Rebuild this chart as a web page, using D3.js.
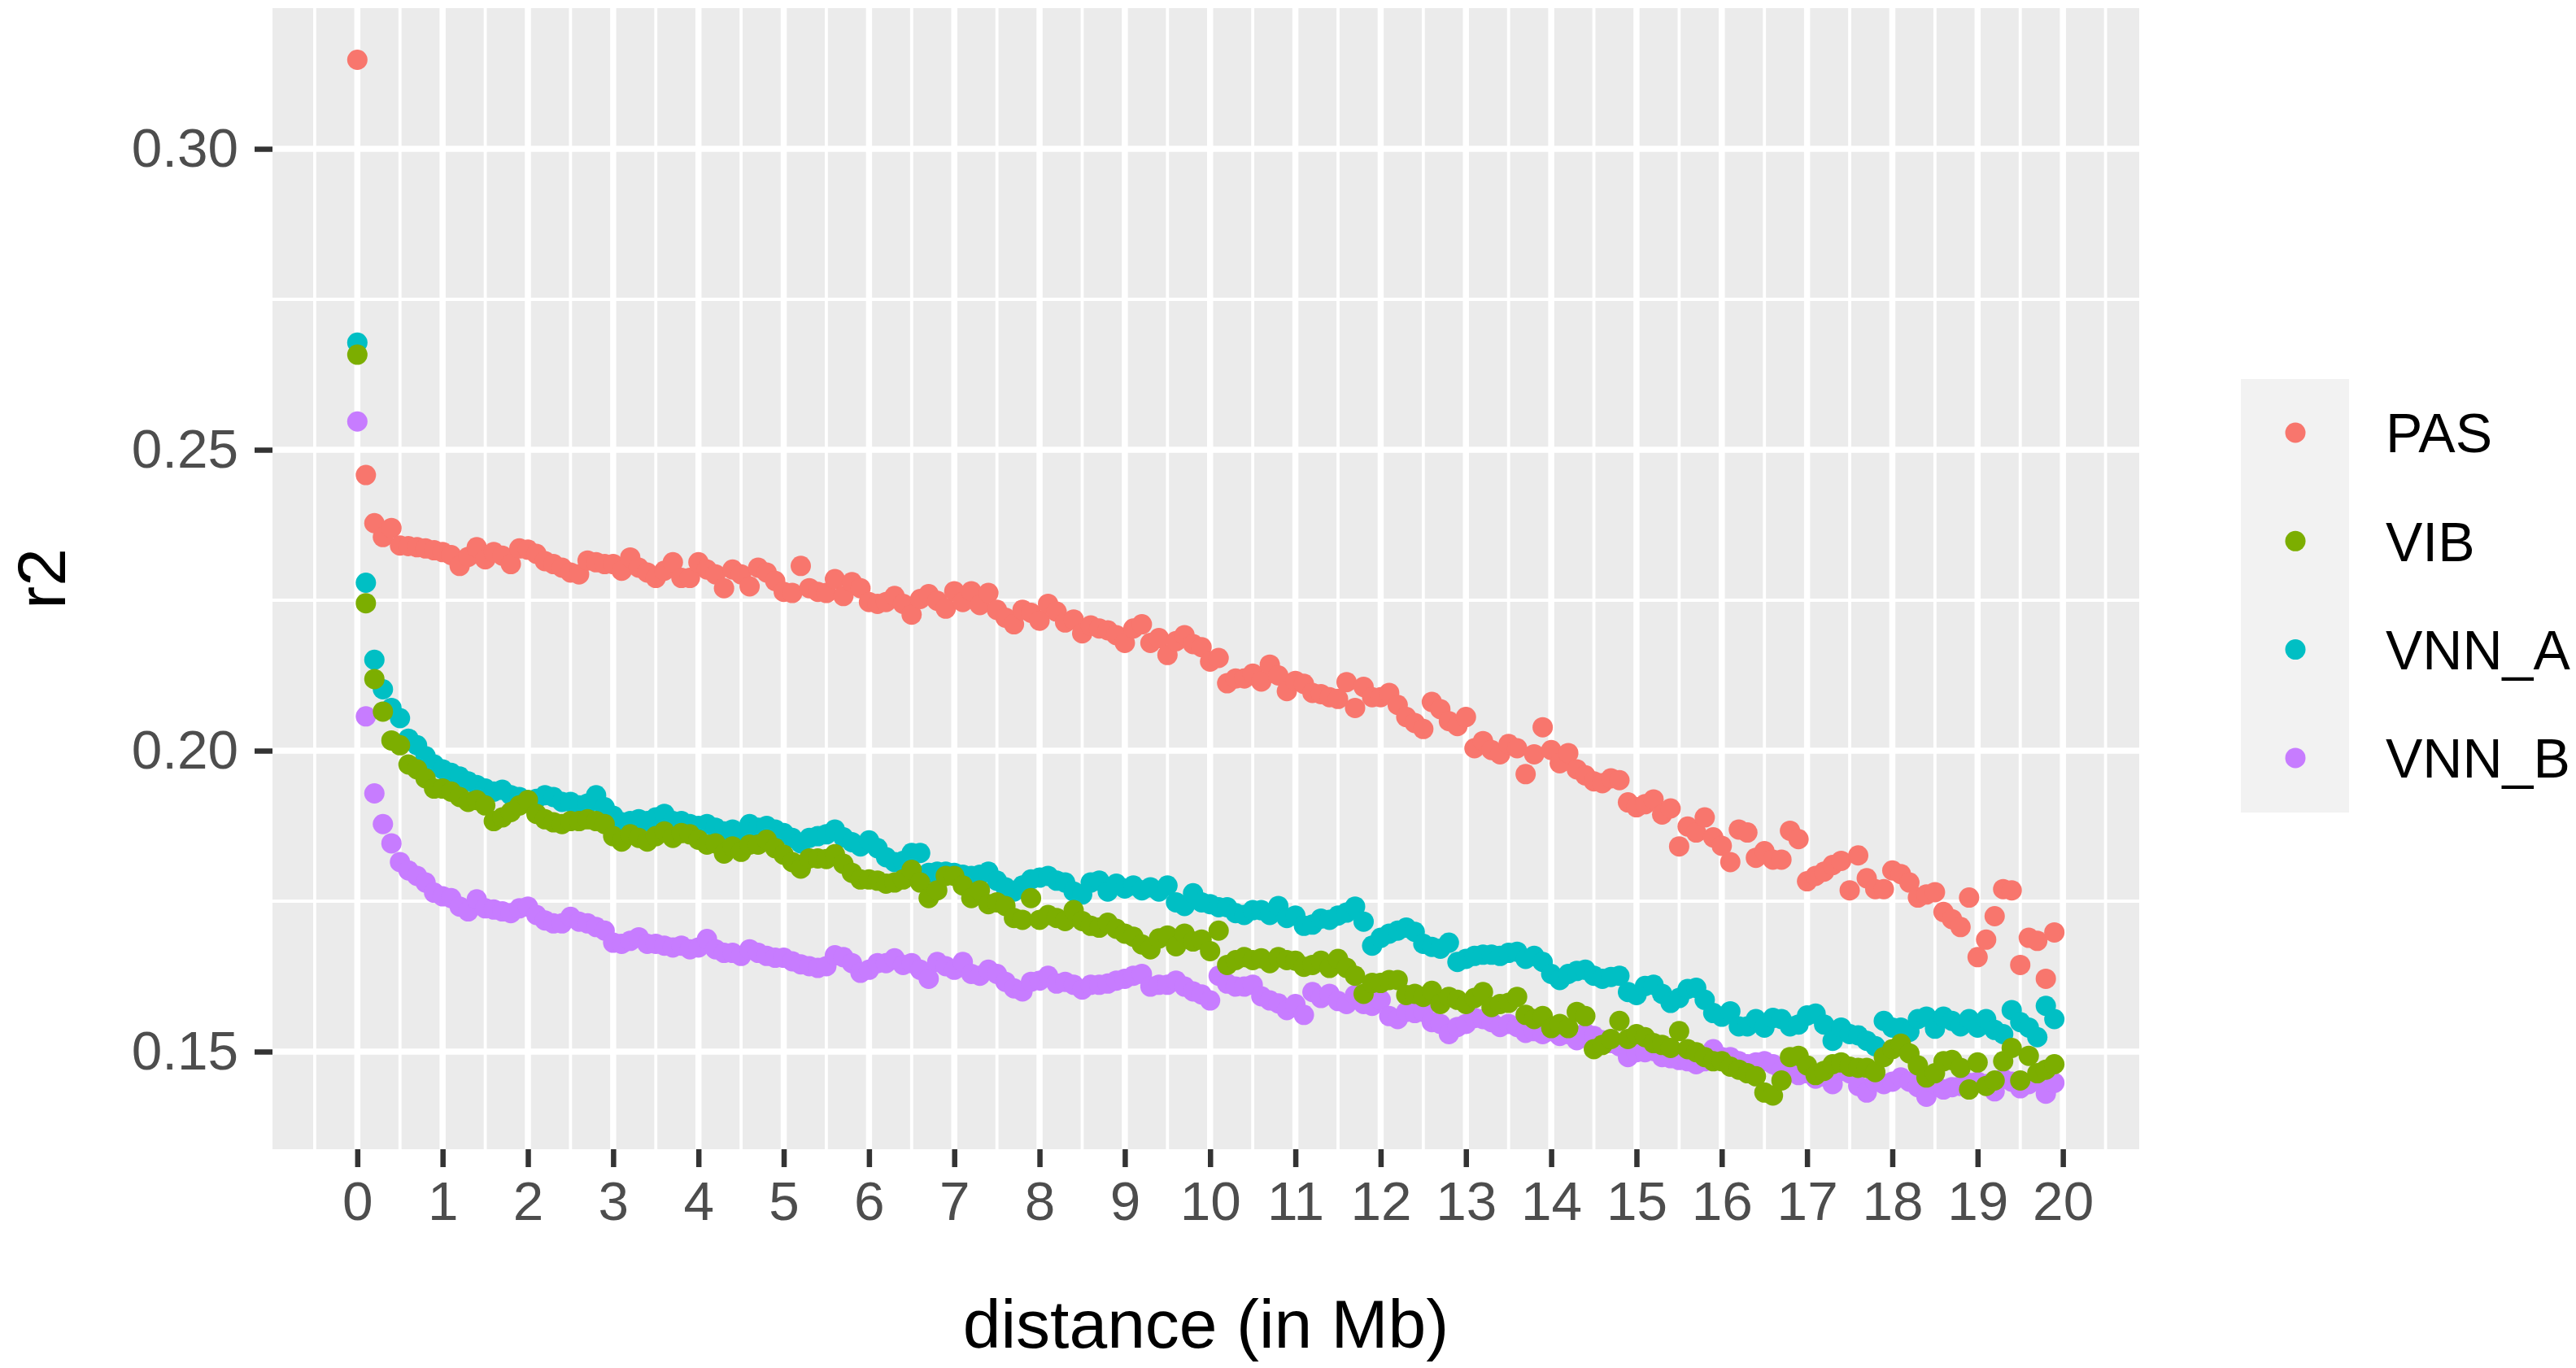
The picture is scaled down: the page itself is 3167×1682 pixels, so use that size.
<!DOCTYPE html>
<html>
<head>
<meta charset="utf-8">
<script src="https://d3js.org/d3.v7.min.js"></script>
<style>
  body { margin: 0; background: #ffffff; }
  text { font-family: "Liberation Sans", Arial, sans-serif; }
</style>
</head>
<body>
<div id="chart"></div>
<script>

// distance bins (Mb)
var distance = [
  0.0, 0.1, 0.2, 0.3, 0.4, 0.5, 0.6, 0.7, 0.8, 0.9,
  1.0, 1.1, 1.2, 1.3, 1.4, 1.5, 1.6, 1.7, 1.8, 1.9,
  2.0, 2.1, 2.2, 2.3, 2.4, 2.5, 2.6, 2.7, 2.8, 2.9,
  3.0, 3.1, 3.2, 3.3, 3.4, 3.5, 3.6, 3.7, 3.8, 3.9,
  4.0, 4.1, 4.2, 4.3, 4.4, 4.5, 4.6, 4.7, 4.8, 4.9,
  5.0, 5.1, 5.2, 5.3, 5.4, 5.5, 5.6, 5.7, 5.8, 5.9,
  6.0, 6.1, 6.2, 6.3, 6.4, 6.5, 6.6, 6.7, 6.8, 6.9,
  7.0, 7.1, 7.2, 7.3, 7.4, 7.5, 7.6, 7.7, 7.8, 7.9,
  8.0, 8.1, 8.2, 8.3, 8.4, 8.5, 8.6, 8.7, 8.8, 8.9,
  9.0, 9.1, 9.2, 9.3, 9.4, 9.5, 9.6, 9.7, 9.8, 9.9,
  10.0, 10.1, 10.2, 10.3, 10.4, 10.5, 10.6, 10.7, 10.8, 10.9,
  11.0, 11.1, 11.2, 11.3, 11.4, 11.5, 11.6, 11.7, 11.8, 11.9,
  12.0, 12.1, 12.2, 12.3, 12.4, 12.5, 12.6, 12.7, 12.8, 12.9,
  13.0, 13.1, 13.2, 13.3, 13.4, 13.5, 13.6, 13.7, 13.8, 13.9,
  14.0, 14.1, 14.2, 14.3, 14.4, 14.5, 14.6, 14.7, 14.8, 14.9,
  15.0, 15.1, 15.2, 15.3, 15.4, 15.5, 15.6, 15.7, 15.8, 15.9,
  16.0, 16.1, 16.2, 16.3, 16.4, 16.5, 16.6, 16.7, 16.8, 16.9,
  17.0, 17.1, 17.2, 17.3, 17.4, 17.5, 17.6, 17.7, 17.8, 17.9,
  18.0, 18.1, 18.2, 18.3, 18.4, 18.5, 18.6, 18.7, 18.8, 18.9,
  19.0, 19.1, 19.2, 19.3, 19.4, 19.5, 19.6, 19.7, 19.8, 19.9
];

var pas = [
  0.3148, 0.2458, 0.2378, 0.2355, 0.2370, 0.2341, 0.2340, 0.2338, 0.2336, 0.2333,
  0.2330, 0.2325, 0.2307, 0.2322, 0.2338, 0.2318, 0.2330, 0.2324, 0.2310, 0.2336,
  0.2334, 0.2327, 0.2315, 0.2310, 0.2304, 0.2296, 0.2293, 0.2316, 0.2313, 0.2310,
  0.2310, 0.2299, 0.2321, 0.2304, 0.2296, 0.2287, 0.2299, 0.2313, 0.2287, 0.2287,
  0.2313, 0.2301, 0.2293, 0.2270, 0.2301, 0.2293, 0.2273, 0.2304, 0.2296, 0.2282,
  0.2264, 0.2262, 0.2307, 0.2270, 0.2264, 0.2262, 0.2285, 0.2257, 0.2280, 0.2270,
  0.2247, 0.2244, 0.2247, 0.2257, 0.2244, 0.2226, 0.2252, 0.2260, 0.2249, 0.2236,
  0.2265, 0.2247, 0.2265, 0.2242, 0.2262, 0.2234, 0.2221, 0.2210, 0.2234, 0.2229,
  0.2216, 0.2244, 0.2231, 0.2213, 0.2218, 0.2195, 0.2208, 0.2203, 0.2200, 0.2192,
  0.2179, 0.2203, 0.2210, 0.2179, 0.2187, 0.2159, 0.2182, 0.2192, 0.2177, 0.2172,
  0.2148, 0.2154, 0.2112, 0.2120, 0.2120, 0.2128, 0.2115, 0.2143, 0.2125, 0.2099,
  0.2116, 0.2111, 0.2096, 0.2094, 0.2089, 0.2086, 0.2114, 0.2071, 0.2106, 0.2089,
  0.2089, 0.2096, 0.2076, 0.2056, 0.2046, 0.2036, 0.2081, 0.2069, 0.2049, 0.2041,
  0.2056, 0.2004, 0.2016, 0.2001, 0.1994, 0.2011, 0.2004, 0.1961, 0.1994, 0.2039,
  0.2001, 0.1979, 0.1996, 0.1969, 0.1959, 0.1949, 0.1946, 0.1954, 0.1951, 0.1914,
  0.1906, 0.1911, 0.1919, 0.1894, 0.1904, 0.1841, 0.1874, 0.1864, 0.1889, 0.1856,
  0.1842, 0.1815, 0.1869, 0.1864, 0.1822, 0.1833, 0.1819, 0.1819, 0.1867, 0.1853,
  0.1783, 0.1792, 0.1799, 0.1810, 0.1817, 0.1768, 0.1826, 0.1788, 0.1770, 0.1770,
  0.1801, 0.1795, 0.1781, 0.1756, 0.1761, 0.1765, 0.1732, 0.1720, 0.1707, 0.1756,
  0.1657, 0.1686, 0.1725, 0.1770, 0.1768, 0.1644, 0.1689, 0.1684, 0.1621, 0.1698
];

var vib = [
  0.2658, 0.2245, 0.2119, 0.2065, 0.2017, 0.2009, 0.1977, 0.1969, 0.1954, 0.1937,
  0.1937, 0.1932, 0.1923, 0.1915, 0.1918, 0.1909, 0.1883, 0.1889, 0.1898, 0.1909,
  0.1918, 0.1895, 0.1886, 0.1881, 0.1878, 0.1883, 0.1883, 0.1886, 0.1883, 0.1878,
  0.1858, 0.1849, 0.1861, 0.1855, 0.1849, 0.1858, 0.1866, 0.1855, 0.1863, 0.1861,
  0.1852, 0.1844, 0.1846, 0.1829, 0.1841, 0.1832, 0.1844, 0.1844, 0.1852, 0.1838,
  0.1827, 0.1815, 0.1804, 0.1821, 0.1821, 0.1820, 0.1828, 0.1812, 0.1797, 0.1786,
  0.1786, 0.1784, 0.1779, 0.1781, 0.1786, 0.1802, 0.1781, 0.1755, 0.1768, 0.1792,
  0.1792, 0.1776, 0.1755, 0.1768, 0.1745, 0.1748, 0.1742, 0.1722, 0.1719, 0.1755,
  0.1719, 0.1727, 0.1722, 0.1717, 0.1735, 0.1717, 0.1709, 0.1706, 0.1714, 0.1704,
  0.1696, 0.1691, 0.1678, 0.1670, 0.1688, 0.1693, 0.1675, 0.1696, 0.1683, 0.1686,
  0.1667, 0.1701, 0.1644, 0.1652, 0.1657, 0.1652, 0.1655, 0.1647, 0.1657, 0.1652,
  0.1651, 0.1641, 0.1644, 0.1651, 0.1639, 0.1654, 0.1639, 0.1626, 0.1596, 0.1614,
  0.1614, 0.1619, 0.1619, 0.1594, 0.1596, 0.1591, 0.1601, 0.1579, 0.1591, 0.1586,
  0.1579, 0.1589, 0.1599, 0.1574, 0.1579, 0.1581, 0.1591, 0.1561, 0.1554, 0.1559,
  0.1539, 0.1546, 0.1539, 0.1566, 0.1559, 0.1504, 0.1511, 0.1521, 0.1551, 0.1521,
  0.1529, 0.1524, 0.1514, 0.1511, 0.1506, 0.1534, 0.1504, 0.1499, 0.1491, 0.1484,
  0.1484, 0.1475, 0.1470, 0.1464, 0.1459, 0.1432, 0.1427, 0.1452, 0.1491, 0.1493,
  0.1477, 0.1461, 0.1468, 0.1479, 0.1482, 0.1475, 0.1473, 0.1473, 0.1466, 0.1491,
  0.1504, 0.1513, 0.1497, 0.1477, 0.1457, 0.1464, 0.1484, 0.1486, 0.1473, 0.1437,
  0.1482, 0.1443, 0.1452, 0.1484, 0.1506, 0.1452, 0.1493, 0.1464, 0.1470, 0.1479
];

var vnnA = [
  0.2678, 0.2279, 0.2151, 0.2102, 0.2071, 0.2054, 0.2020, 0.2009, 0.1991, 0.1977,
  0.1969, 0.1963, 0.1957, 0.1949, 0.1943, 0.1937, 0.1932, 0.1935, 0.1926, 0.1923,
  0.1918, 0.1920, 0.1926, 0.1923, 0.1915, 0.1915, 0.1909, 0.1912, 0.1926, 0.1906,
  0.1892, 0.1881, 0.1883, 0.1886, 0.1883, 0.1889, 0.1895, 0.1883, 0.1883, 0.1878,
  0.1875, 0.1878, 0.1872, 0.1866, 0.1869, 0.1863, 0.1878, 0.1872, 0.1875, 0.1869,
  0.1863, 0.1855, 0.1846, 0.1855, 0.1858, 0.1861, 0.1869, 0.1856, 0.1848, 0.1841,
  0.1851, 0.1838, 0.1823, 0.1815, 0.1817, 0.1830, 0.1830, 0.1797, 0.1799, 0.1799,
  0.1797, 0.1794, 0.1792, 0.1794, 0.1799, 0.1784, 0.1773, 0.1766, 0.1776, 0.1786,
  0.1789, 0.1792, 0.1784, 0.1781, 0.1766, 0.1761, 0.1781, 0.1784, 0.1766, 0.1779,
  0.1771, 0.1776, 0.1768, 0.1773, 0.1766, 0.1776, 0.1748, 0.1742, 0.1763, 0.1748,
  0.1745, 0.1740, 0.1740, 0.1730, 0.1727, 0.1735, 0.1735, 0.1727, 0.1742, 0.1722,
  0.1726, 0.1709, 0.1711, 0.1721, 0.1719, 0.1726, 0.1731, 0.1741, 0.1716, 0.1676,
  0.1689, 0.1696, 0.1701, 0.1706, 0.1699, 0.1679, 0.1674, 0.1671, 0.1681, 0.1649,
  0.1654, 0.1659, 0.1661, 0.1661, 0.1659, 0.1664, 0.1666, 0.1654, 0.1659, 0.1649,
  0.1629, 0.1619, 0.1629, 0.1634, 0.1636, 0.1626, 0.1621, 0.1624, 0.1626, 0.1599,
  0.1594, 0.1609, 0.1611, 0.1596, 0.1581, 0.1589, 0.1604, 0.1606, 0.1586, 0.1564,
  0.1558, 0.1567, 0.1542, 0.1542, 0.1554, 0.1540, 0.1556, 0.1554, 0.1542, 0.1545,
  0.1560, 0.1563, 0.1545, 0.1518, 0.1540, 0.1529, 0.1527, 0.1518, 0.1509, 0.1551,
  0.1540, 0.1540, 0.1533, 0.1554, 0.1558, 0.1538, 0.1558, 0.1551, 0.1542, 0.1554,
  0.1540, 0.1554, 0.1536, 0.1529, 0.1569, 0.1549, 0.1540, 0.1524, 0.1576, 0.1554
];

var vnnB = [
  0.2547, 0.2057, 0.1929, 0.1878, 0.1846, 0.1815, 0.1801, 0.1792, 0.1781, 0.1764,
  0.1758, 0.1755, 0.1741, 0.1733, 0.1753, 0.1738, 0.1736, 0.1733, 0.1730, 0.1738,
  0.1741, 0.1727, 0.1718, 0.1713, 0.1713, 0.1724, 0.1716, 0.1713, 0.1707, 0.1701,
  0.1681, 0.1679, 0.1684, 0.1690, 0.1679, 0.1679, 0.1676, 0.1673, 0.1676, 0.1670,
  0.1673, 0.1687, 0.1670, 0.1664, 0.1664, 0.1659, 0.1670, 0.1664, 0.1659, 0.1656,
  0.1656, 0.1650, 0.1645, 0.1642, 0.1639, 0.1642, 0.1660, 0.1657, 0.1647, 0.1631,
  0.1636, 0.1647, 0.1647, 0.1655, 0.1644, 0.1647, 0.1636, 0.1621, 0.1649, 0.1642,
  0.1636, 0.1649, 0.1629, 0.1626, 0.1636, 0.1629, 0.1616, 0.1605, 0.1600, 0.1616,
  0.1618, 0.1626, 0.1613, 0.1616, 0.1611, 0.1603, 0.1611, 0.1611, 0.1613, 0.1618,
  0.1621, 0.1626, 0.1629, 0.1608, 0.1611, 0.1611, 0.1618, 0.1608, 0.1600, 0.1595,
  0.1585, 0.1626, 0.1613, 0.1608, 0.1608, 0.1611, 0.1592, 0.1585, 0.1580, 0.1569,
  0.1579, 0.1561, 0.1599, 0.1589, 0.1596, 0.1584, 0.1579, 0.1594, 0.1579, 0.1576,
  0.1586, 0.1559, 0.1554, 0.1566, 0.1564, 0.1566, 0.1549, 0.1546, 0.1529, 0.1541,
  0.1546, 0.1556, 0.1554, 0.1549, 0.1541, 0.1546, 0.1541, 0.1531, 0.1534, 0.1529,
  0.1534, 0.1526, 0.1529, 0.1519, 0.1531, 0.1526, 0.1519, 0.1514, 0.1509, 0.1491,
  0.1499, 0.1499, 0.1501, 0.1491, 0.1489, 0.1486, 0.1484, 0.1479, 0.1484, 0.1504,
  0.1491, 0.1491, 0.1484, 0.1479, 0.1482, 0.1484, 0.1479, 0.1468, 0.1468, 0.1461,
  0.1464, 0.1455, 0.1459, 0.1446, 0.1468, 0.1464, 0.1443, 0.1432, 0.1450, 0.1446,
  0.1450, 0.1457, 0.1450, 0.1441, 0.1425, 0.1446, 0.1437, 0.1441, 0.1443, 0.1448,
  0.1450, 0.1446, 0.1434, 0.1455, 0.1450, 0.1439, 0.1446, 0.1455, 0.1430, 0.1448
];

var groups = ["PAS", "VIB", "VNN_A", "VNN_B"];
var groupColors = ["#F8766D", "#7CAE00", "#00BFC4", "#C77CFF"];
var xTicks = [0, 1, 2, 3, 4, 5, 6, 7, 8, 9, 10, 11, 12, 13, 14, 15, 16, 17, 18, 19, 20];
var yTicks = [0.15, 0.20, 0.25, 0.30];

var width = 3167,
    height = 1682,
    panel = {left: 335, right: 2630, top: 10, bottom: 1413};

var svg = d3.select("#chart")
  .append("svg")
    .attr("width", width)
    .attr("height", height);

var x = d3.scaleLinear()
  .domain([-0.995, 20.895])
  .range([panel.left, panel.right]);

var y = d3.scaleLinear()
  .domain([0.13378, 0.32338])
  .range([panel.bottom, panel.top]);

var color = d3.scaleOrdinal().domain(groups).range(groupColors);

// panel background
svg.append("rect")
  .attr("x", panel.left)
  .attr("y", panel.top)
  .attr("width", panel.right - panel.left)
  .attr("height", panel.bottom - panel.top)
  .attr("fill", "#EBEBEB");

// grid lines: minor halfway between the breaks
var xMinor = xTicks.map(function(d) { return d - 0.5; }).concat([20.5]);
var yMinor = [0.175, 0.225, 0.275];

var grid = svg.append("g");
grid.selectAll(".xminor").data(xMinor).enter().append("line")
  .attr("x1", function(d) { return x(d); }).attr("x2", function(d) { return x(d); })
  .attr("y1", panel.top).attr("y2", panel.bottom)
  .attr("stroke", "#fff").attr("stroke-width", 3.8);
grid.selectAll(".yminor").data(yMinor).enter().append("line")
  .attr("y1", function(d) { return y(d); }).attr("y2", function(d) { return y(d); })
  .attr("x1", panel.left).attr("x2", panel.right)
  .attr("stroke", "#fff").attr("stroke-width", 3.8);
grid.selectAll(".xmajor").data(xTicks).enter().append("line")
  .attr("x1", function(d) { return x(d); }).attr("x2", function(d) { return x(d); })
  .attr("y1", panel.top).attr("y2", panel.bottom)
  .attr("stroke", "#fff").attr("stroke-width", 7.5);
grid.selectAll(".ymajor").data(yTicks).enter().append("line")
  .attr("y1", function(d) { return y(d); }).attr("y2", function(d) { return y(d); })
  .attr("x1", panel.left).attr("x2", panel.right)
  .attr("stroke", "#fff").attr("stroke-width", 7.5);

// points, drawn in the order seen in the picture (VIB on top)
var seriesValues = {PAS: pas, VIB: vib, VNN_A: vnnA, VNN_B: vnnB};
var drawOrder = ["PAS", "VNN_A", "VNN_B", "VIB"];
var rows = [];
drawOrder.forEach(function(g) {
  seriesValues[g].forEach(function(v, i) {
    rows.push({group: g, distance: distance[i], r2: v});
  });
});

svg.append("g")
  .selectAll("circle")
  .data(rows)
  .enter()
  .append("circle")
    .attr("cx", function(d) { return x(d.distance); })
    .attr("cy", function(d) { return y(d.r2); })
    .attr("r", 12.5)
    .style("fill", function(d) { return color(d.group); });

// axes
var xAxis = svg.append("g")
  .attr("transform", "translate(0," + panel.bottom + ")")
  .call(d3.axisBottom(x).tickValues(xTicks).tickSize(22).tickPadding(17));

var yAxis = svg.append("g")
  .attr("transform", "translate(" + panel.left + ",0)")
  .call(d3.axisLeft(y).tickValues(yTicks).tickFormat(d3.format(".2f")).tickSize(22).tickPadding(20));

[xAxis, yAxis].forEach(function(a) {
  a.select(".domain").remove();
  a.selectAll(".tick line").attr("stroke", "#333333").attr("stroke-width", 6.5);
  a.selectAll(".tick text")
    .attr("fill", "#4D4D4D")
    .style("font-size", "67.5px")
    .style("font-family", "'Liberation Sans', Arial, sans-serif");
});

// axis titles
svg.append("text")
  .attr("x", (panel.left + panel.right) / 2)
  .attr("y", 1657)
  .attr("text-anchor", "middle")
  .style("font-size", "84px")
  .attr("fill", "#000")
  .text("distance (in Mb)");

svg.append("text")
  .attr("transform", "translate(80," + ((panel.top + panel.bottom) / 2) + ") rotate(-90)")
  .attr("text-anchor", "middle")
  .style("font-size", "84px")
  .attr("fill", "#000")
  .text("r2");

// legend
var legend = svg.append("g");
legend.append("rect")
  .attr("x", 2755).attr("y", 466)
  .attr("width", 133).attr("height", 533)
  .attr("fill", "#F2F2F2");

var keys = legend.selectAll(".key")
  .data(groups)
  .enter()
  .append("g")
    .attr("transform", function(d, i) { return "translate(2822," + (532 + i * 133.3) + ")"; });

keys.append("circle")
  .attr("r", 12.5)
  .style("fill", function(d) { return color(d); });

keys.append("text")
  .attr("x", 111)
  .attr("dy", "0.36em")
  .style("font-size", "68px")
  .attr("fill", "#000")
  .text(function(d) { return d; });

</script>
</body>
</html>
